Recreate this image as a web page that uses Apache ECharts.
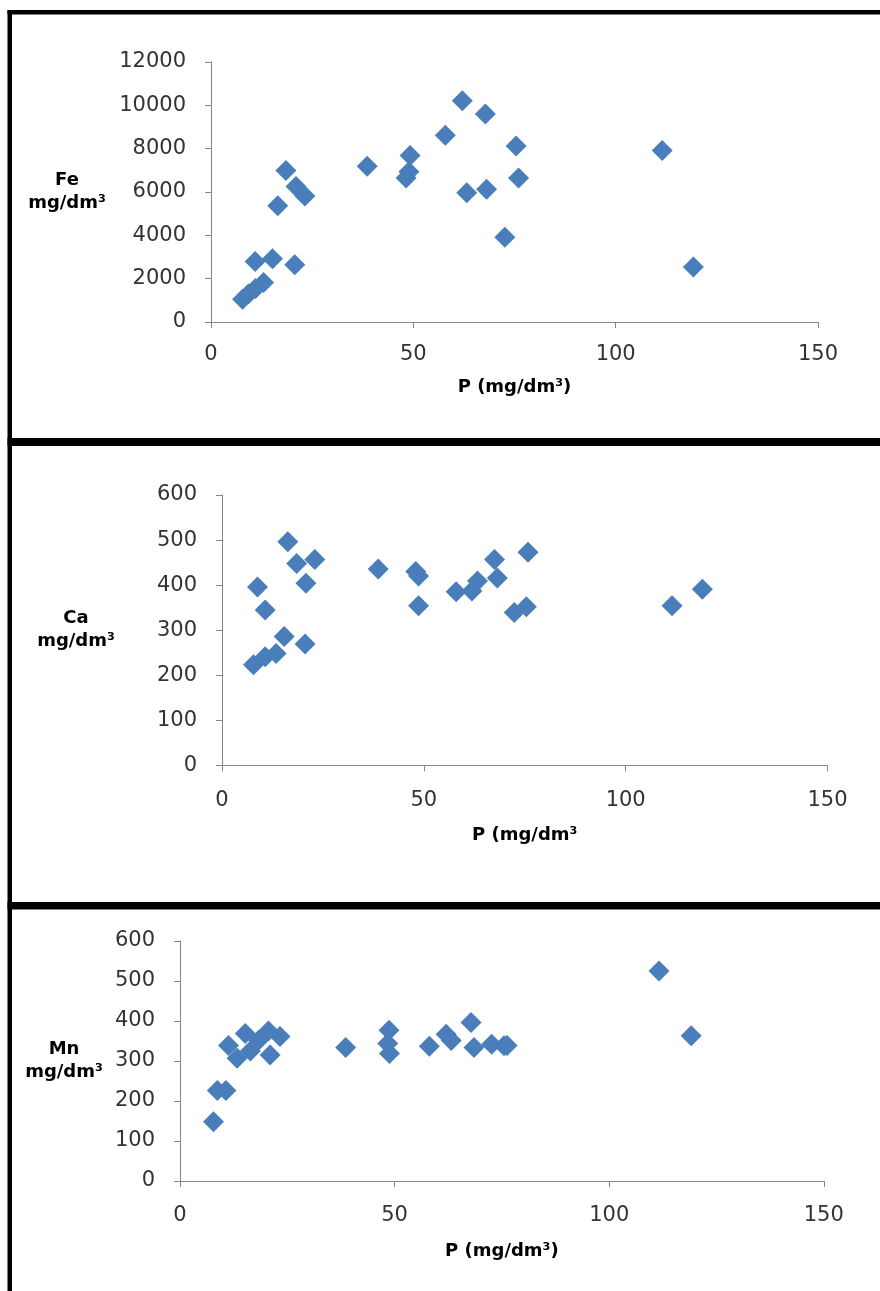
<!DOCTYPE html>
<html>
<head>
<meta charset="utf-8">
<script src="https://cdn.jsdelivr.net/npm/echarts@6/dist/echarts.min.js"></script>
<style>
  html, body { margin: 0; padding: 0; background: #ffffff; }
  #chart { width: 880px; height: 1291px; }
</style>
</head>
<body>
<div id="chart"></div>
<script>
// ---- data ----
const xTicks = [0, 50, 100, 150];

const feP   = [7.8, 9.3, 11.0, 13.0, 10.9, 15.2, 20.7, 16.5, 18.5, 21.0, 23.2, 38.6, 48.2, 48.9, 49.2, 57.9, 62.1, 67.8, 63.2, 68.1, 72.6, 75.4, 76.0, 111.5, 119.2];
const feVal = [1050, 1300, 1550, 1820, 2790, 2920, 2640, 5360, 6990, 6250, 5820, 7190, 6650, 6930, 7690, 8620, 10210, 9600, 5960, 6130, 3910, 8120, 6650, 7920, 2540];

const caP   = [7.8, 10.7, 13.4, 8.8, 10.7, 15.4, 16.3, 18.5, 20.8, 23.0, 20.6, 38.7, 48.0, 48.7, 48.7, 58.0, 61.9, 63.3, 67.5, 68.2, 72.4, 75.4, 75.8, 111.5, 119.0];
const caVal = [223, 241, 248, 396, 345, 286, 496, 448, 404, 457, 269, 436, 430, 420, 354, 385, 387, 409, 457, 416, 339, 352, 473, 354, 391];

const mnP   = [7.8, 8.7, 10.7, 11.3, 13.3, 15.2, 16.4, 18.3, 20.6, 21.0, 23.3, 38.6, 48.7, 48.4, 48.8, 58.1, 62.0, 63.2, 67.8, 68.5, 72.6, 75.5, 76.2, 111.6, 119.1];
const mnVal = [148, 226, 226, 339, 307, 369, 325, 352, 375, 315, 361, 334, 377, 344, 319, 337, 367, 351, 396, 334, 342, 338, 339, 525, 363];

const feTicks = [0, 2000, 4000, 6000, 8000, 10000, 12000];
const caTicks = [0, 100, 200, 300, 400, 500, 600];
const mnTicks = [0, 100, 200, 300, 400, 500, 600];

const xNames = ['P (mg/dm³)', 'P (mg/dm³', 'P (mg/dm³)'];
const yNames = ['Fe\nmg/dm³', 'Ca\nmg/dm³', 'Mn\nmg/dm³'];

// ---- styling / layout ----
const FONT = 'DejaVu Sans';
const AXIS_COLOR = '#868686';
const LABEL_COLOR = '#333333';
const MARK_COLOR = '#4A7EBB';

function zip(xs, ys) { return xs.map((x, i) => [x, ys[i]]); }
function plain(v) { return String(v); }

const grids = [
  { left: 211, top: 62,  width: 607,   height: 260 },
  { left: 222, top: 495, width: 605.5, height: 270.3 },
  { left: 180, top: 941, width: 643.8, height: 240 }
];
const xLabelMargin = [22, 25, 24];
const xNameGap = [56, 61, 61];
const yNameGap = [144, 146, 116];
const yNamePad = [[0, 0, 0, 0], [0, 0, 60, 0], [6, 0, 0, 0]];
const yTickSets = [feTicks, caTicks, mnTicks];

const option = {
  backgroundColor: '#ffffff',
  animation: false,
  grid: grids.map(g => Object.assign({ containLabel: false, outerBoundsMode: 'none' }, g)),
  xAxis: grids.map((g, i) => ({
    type: 'value',
    gridIndex: i,
    min: xTicks[0],
    max: xTicks[xTicks.length - 1],
    interval: xTicks[1] - xTicks[0],
    name: xNames[i],
    nameLocation: 'middle',
    nameGap: xNameGap[i],
    nameTextStyle: { fontFamily: FONT, fontWeight: 'bold', fontSize: 18, color: '#000' },
    axisLine: { show: true, onZero: false, lineStyle: { color: AXIS_COLOR, width: 1 } },
    axisTick: { show: true, length: 6, lineStyle: { color: AXIS_COLOR } },
    axisLabel: { fontFamily: FONT, fontSize: 21, color: LABEL_COLOR, margin: xLabelMargin[i], formatter: plain },
    splitLine: { show: false }
  })),
  yAxis: grids.map((g, i) => {
    const t = yTickSets[i];
    return {
      type: 'value',
      gridIndex: i,
      min: t[0],
      max: t[t.length - 1],
      interval: t[1] - t[0],
      name: yNames[i],
      nameLocation: 'middle',
      nameRotate: 0,
      nameGap: yNameGap[i],
      nameTextStyle: {
        fontFamily: FONT, fontWeight: 'bold', fontSize: 18, color: '#000',
        align: 'center', verticalAlign: 'middle', lineHeight: 23,
        padding: yNamePad[i]
      },
      axisLine: { show: true, onZero: false, lineStyle: { color: AXIS_COLOR, width: 1 } },
      axisTick: { show: true, length: 6, lineStyle: { color: AXIS_COLOR } },
      axisLabel: { fontFamily: FONT, fontSize: 21, color: LABEL_COLOR, margin: 25, formatter: plain },
      splitLine: { show: false }
    };
  }),
  series: [
    { type: 'scatter', xAxisIndex: 0, yAxisIndex: 0, data: zip(feP, feVal) },
    { type: 'scatter', xAxisIndex: 1, yAxisIndex: 1, data: zip(caP, caVal) },
    { type: 'scatter', xAxisIndex: 2, yAxisIndex: 2, data: zip(mnP, mnVal) }
  ].map(s => Object.assign(s, {
    symbol: 'diamond',
    symbolSize: 21,
    itemStyle: { color: MARK_COLOR, opacity: 1 },
    emphasis: { disabled: true }
  })),
  graphic: [
    { type: 'rect', shape: { x: 7.5, y: 10, width: 4.5, height: 1281 }, style: { fill: '#000' } },
    { type: 'rect', shape: { x: 7.5, y: 10, width: 872.5, height: 4.5 }, style: { fill: '#000' } },
    { type: 'rect', shape: { x: 7.5, y: 438, width: 872.5, height: 8 }, style: { fill: '#000' } },
    { type: 'rect', shape: { x: 7.5, y: 902, width: 872.5, height: 7.5 }, style: { fill: '#000' } }
  ]
};

const chart = echarts.init(document.getElementById('chart'), null, { renderer: 'canvas' });
chart.setOption(option);
</script>
</body>
</html>
